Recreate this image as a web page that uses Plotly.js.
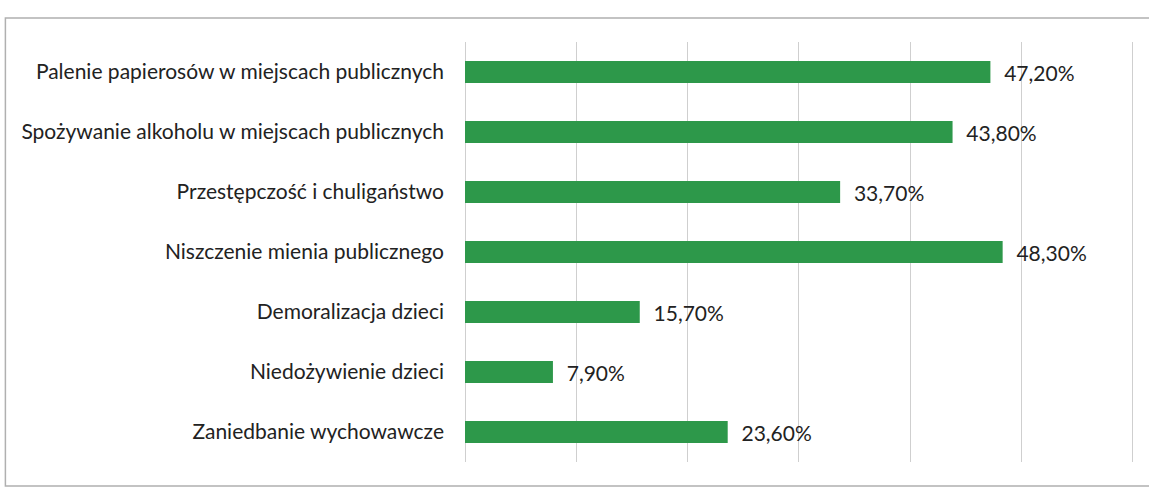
<!DOCTYPE html>
<html>
<head>
<meta charset="utf-8">
<script src="https://cdn.plot.ly/plotly-3.0.1.min.js"></script>
<style>
html,body{margin:0;padding:0;background:#fff;}
#chart{width:1149px;height:490px;}
</style>
</head>
<body>
<div id="chart"></div>
<script>
const categories = [
  "Palenie papierosów w miejscach publicznych",
  "Spożywanie alkoholu w miejscach publicznych",
  "Przestępczość i chuligaństwo",
  "Niszczenie mienia publicznego",
  "Demoralizacja dzieci",
  "Niedożywienie dzieci",
  "Zaniedbanie wychowawcze"
];
const values = [47.2, 43.8, 33.7, 48.3, 15.7, 7.9, 23.6];

const trace = {
  type: 'bar',
  orientation: 'h',
  x: values,
  y: categories,
  width: 0.37,
  marker: {color: '#2d984a', line: {width: 0}},
  texttemplate: '  %{x:.2f}%',
  textposition: 'outside',
  constraintext: 'none',
  cliponaxis: false,
  textfont: {family: 'Lato, sans-serif', size: 21, color: '#222'},
  hoverinfo: 'skip'
};

const layout = {
  width: 1149,
  height: 490,
  margin: {l: 465, r: 15, t: 42, b: 28},
  paper_bgcolor: '#fff',
  plot_bgcolor: '#fff',
  separators: ', ',
  showlegend: false,
  font: {family: 'Lato, sans-serif', size: 21, color: '#222'},
  xaxis: {
    range: [0, 60.1],
    dtick: 10,
    showticklabels: false,
    showgrid: true,
    gridcolor: '#cfcfcf',
    gridwidth: 1,
    zeroline: true,
    zerolinecolor: '#cfcfcf',
    zerolinewidth: 1,
    showline: false,
    fixedrange: true
  },
  yaxis: {
    autorange: 'reversed',
    showgrid: false,
    showline: false,
    ticks: '',
    ticklabelstandoff: 20,
    tickfont: {family: 'Lato, sans-serif', size: 21, color: '#222'},
    fixedrange: true
  },
  shapes: [
    {type: 'rect', xref: 'paper', yref: 'paper',
     x0: -0.687, x1: 1.2, y0: -0.057, y1: 1.057,
     line: {color: '#b0b0b0', width: 1.5}, fillcolor: 'rgba(0,0,0,0)', layer: 'below'}
  ]
};

Plotly.newPlot('chart', [trace], layout, {displayModeBar: false, staticPlot: true});
</script>
</body>
</html>
